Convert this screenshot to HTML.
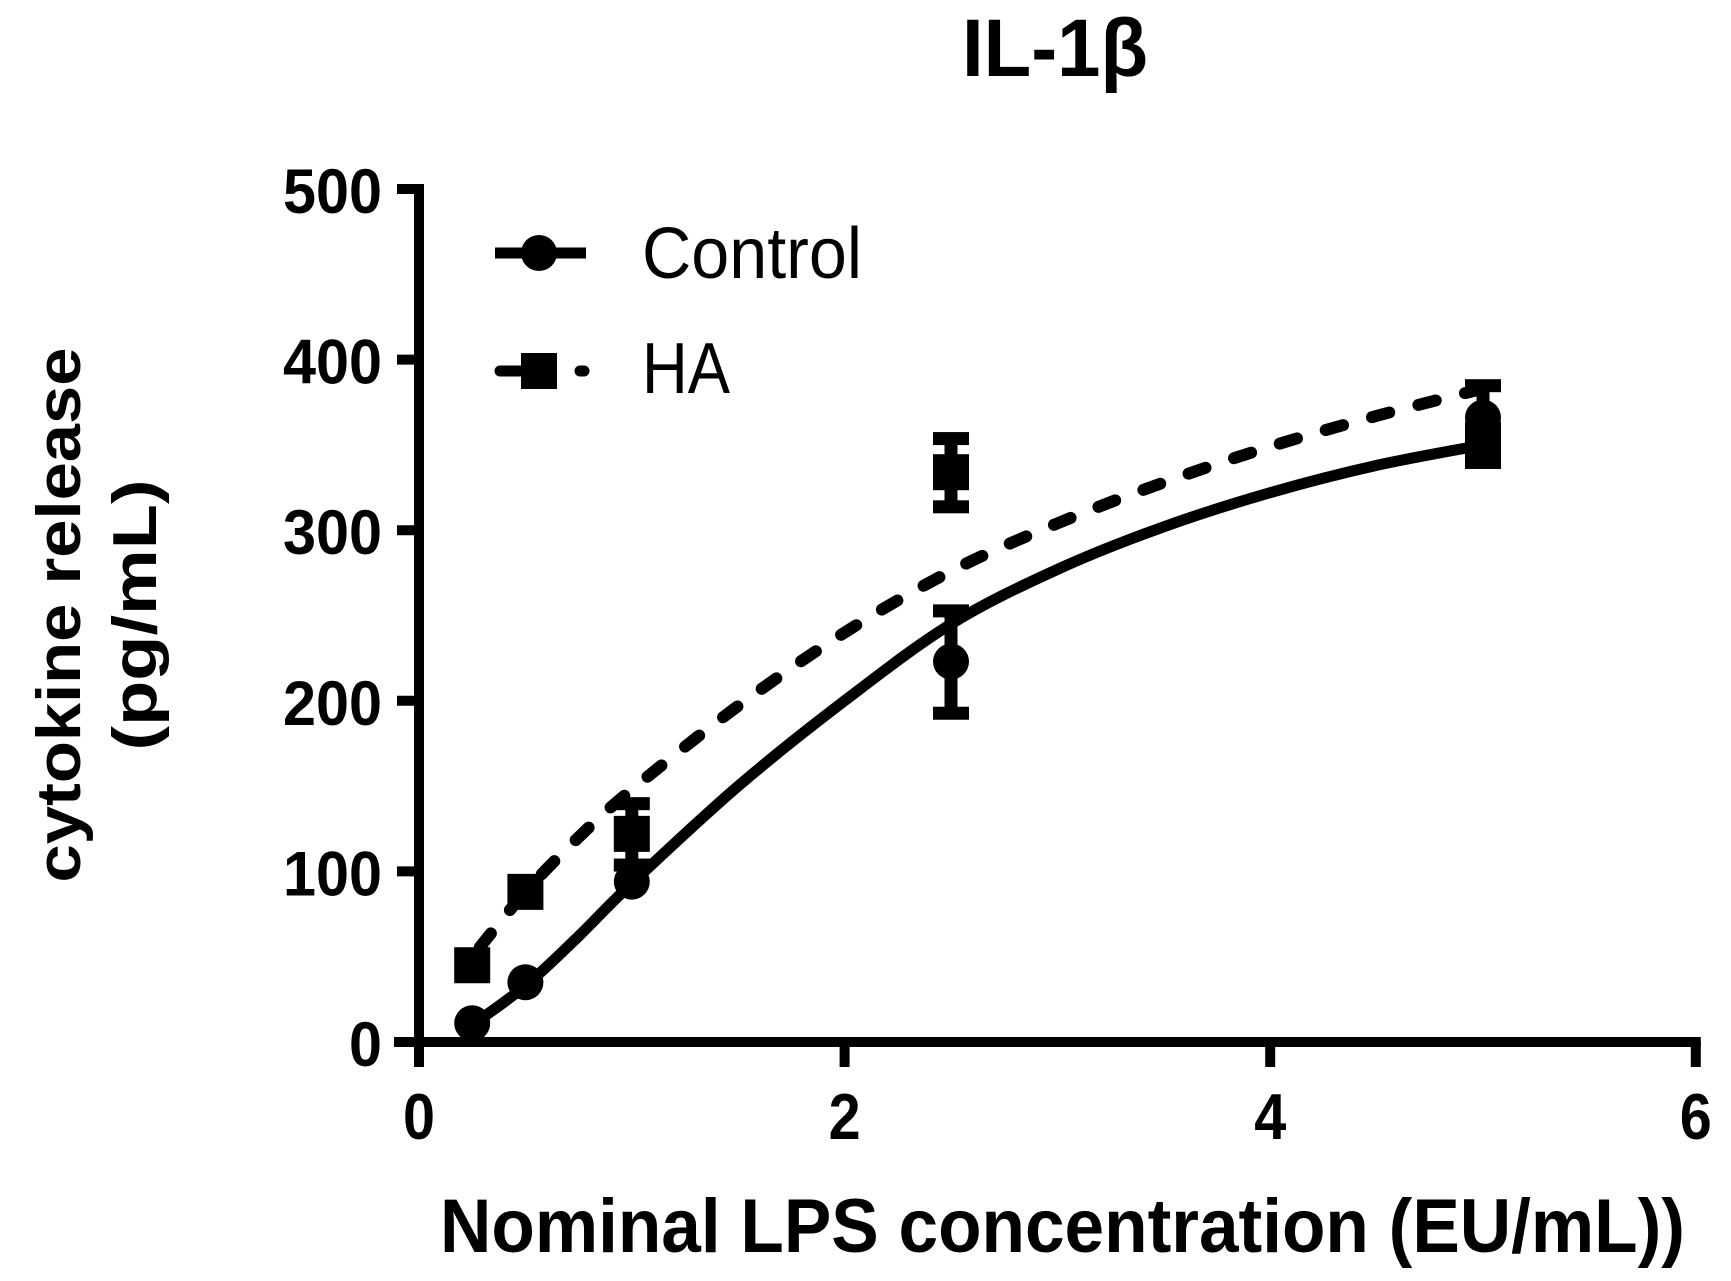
<!DOCTYPE html>
<html><head><meta charset="utf-8"><title>IL-1β</title>
<style>html,body{margin:0;padding:0;background:#fff;}svg{display:block;}</style></head>
<body>
<svg id="chart" width="1731" height="1281" viewBox="0 0 1731 1281" xmlns="http://www.w3.org/2000/svg" font-family="'Liberation Sans', Arial, sans-serif">
<rect width="1731" height="1281" fill="#fff"/>
<text x="962" y="76" font-size="82" font-weight="bold" textLength="186" lengthAdjust="spacingAndGlyphs">IL-1β</text>
<text transform="translate(80,615) rotate(-90)" text-anchor="middle" font-size="62" font-weight="bold" textLength="535" lengthAdjust="spacingAndGlyphs">cytokine release</text>
<text transform="translate(156,615) rotate(-90)" text-anchor="middle" font-size="62" font-weight="bold" textLength="271" lengthAdjust="spacingAndGlyphs">(pg/mL)</text>
<text x="440" y="1252" font-size="76" font-weight="bold" textLength="1245" lengthAdjust="spacingAndGlyphs">Nominal LPS concentration (EU/mL))</text>
<g id="axes"></g>
<g id="marks"></g>
<g>
  <g>
    <line x1="495" y1="253" x2="586" y2="253" stroke="#000" stroke-width="11"/>
    <circle cx="539" cy="253" r="18" fill="#000"/>
    <text x="642" y="278" font-size="72" textLength="220" lengthAdjust="spacingAndGlyphs">Control</text>
  </g>
  <g>
    <line x1="500" y1="371" x2="520" y2="371" stroke="#000" stroke-width="11" stroke-linecap="round"/>
    <line x1="580" y1="371" x2="584" y2="371" stroke="#000" stroke-width="11" stroke-linecap="round"/>
    <rect x="521" y="353" width="36" height="36" fill="#000"/>
    <text x="642" y="393" font-size="72" textLength="88" lengthAdjust="spacingAndGlyphs">HA</text>
  </g>
</g>
</svg>
<script>
const xTicks = [0, 2, 4, 6];
const yTicks = [0, 100, 200, 300, 400, 500];
const doses = [0.25, 0.5, 1, 2.5, 5];
const controlMean = [11, 35, 94, 223, 366];
const controlErr = [0, 0, 0, 30, 19];
const haMean = [45, 88, 122, 334, 350];
const haErr = [0, 0, 18, 20, 10];
const fitX = [0.25, 0.5, 0.75, 1, 1.5, 2, 2.5, 3, 3.5, 4, 4.5, 5];
const controlFit = [10, 33, 62, 93, 150, 200, 245, 277, 302, 322, 338, 350];
const haFit = [50, 88, 120, 148, 197, 240, 276, 304, 328, 349, 367, 383];

const NS = 'http://www.w3.org/2000/svg';
const X = v => 419 + v * 212.8;
const Y = v => 1042 - v * 1.706;
const axes = document.getElementById('axes');
const marks = document.getElementById('marks');
function mk(tag, attrs, parent) {
  const e = document.createElementNS(NS, tag);
  for (const k in attrs) e.setAttribute(k, attrs[k]);
  parent.appendChild(e);
  return e;
}
let el = mk('line', {x1: 394, y1: Y(0), x2: X(6) + 5, y2: Y(0), stroke: '#000', 'stroke-width': 10}, axes);


el = mk('line', {x1: X(0), y1: Y(500) - 5, x2: X(0), y2: Y(0) + 5, stroke: '#000', 'stroke-width': 10}, axes);


xTicks.forEach(t => {
  const tk = mk('line', {x1: X(t), y1: Y(0), x2: X(t), y2: Y(0) + 25, stroke: '#000', 'stroke-width': 10}, axes);
  
  
  const lb = mk('text', {x: X(t), y: 1139, 'text-anchor': 'middle', 'font-size': 65, 'font-weight': 'bold', textLength: 32, lengthAdjust: 'spacingAndGlyphs'}, axes);
  lb.textContent = t;
  
  
});
yTicks.forEach(t => {
  const tk = mk('line', {x1: X(0) - 22, y1: Y(t), x2: X(0), y2: Y(t), stroke: '#000', 'stroke-width': 10}, axes);
  
  
  const s = String(t);
  const lb = mk('text', {x: 382, y: Y(t) + 24, 'text-anchor': 'end', 'font-size': 63, 'font-weight': 'bold', textLength: s.length * 33, lengthAdjust: 'spacingAndGlyphs'}, axes);
  lb.textContent = s;
  
  
});
function pathFrom(xs, ys) {
  const p = xs.map((x, i) => [X(x), Y(ys[i])]);
  let d = 'M' + p[0][0] + ',' + p[0][1];
  for (let i = 0; i < p.length - 1; i++) {
    const p0 = p[i - 1] || p[i], p1 = p[i], p2 = p[i + 1], p3 = p[i + 2] || p2;
    const c1x = p1[0] + (p2[0] - p0[0]) / 6, c1y = p1[1] + (p2[1] - p0[1]) / 6;
    const c2x = p2[0] - (p3[0] - p1[0]) / 6, c2y = p2[1] - (p3[1] - p1[1]) / 6;
    d += ' C' + c1x + ',' + c1y + ' ' + c2x + ',' + c2y + ' ' + p2[0] + ',' + p2[1];
  }
  return d;
}
el = mk('path', {d: pathFrom(fitX, haFit), fill: 'none', stroke: '#000', 'stroke-width': 12, 'stroke-dasharray': '18 30', 'stroke-dashoffset': '-12', 'stroke-linecap': 'round'}, marks);


el = mk('path', {d: pathFrom(fitX, controlFit), fill: 'none', stroke: '#000', 'stroke-width': 11}, marks);


function errBar(x, m, e, name) {
  if (!e) return;
  const g = mk('g', {}, marks);
  
  
  mk('line', {x1: X(x), y1: Y(m + e), x2: X(x), y2: Y(m - e), stroke: '#000', 'stroke-width': 13}, g);
  mk('rect', {x: X(x) - 18, y: Y(m + e) - 6, width: 36, height: 13, fill: '#000'}, g);
  mk('rect', {x: X(x) - 18, y: Y(m - e) - 6, width: 36, height: 13, fill: '#000'}, g);
}
doses.forEach((d, i) => {
  errBar(d, haMean[i], haErr[i], 'ha-error-bar');
  const r = mk('rect', {x: X(d) - 18, y: Y(haMean[i]) - 18, width: 36, height: 36, fill: '#000'}, marks);
  
  
});
doses.forEach((d, i) => {
  errBar(d, controlMean[i], controlErr[i], 'control-error-bar');
  const c = mk('circle', {cx: X(d), cy: Y(controlMean[i]), r: 18, fill: '#000'}, marks);
  
  
});
</script>
</body></html>
